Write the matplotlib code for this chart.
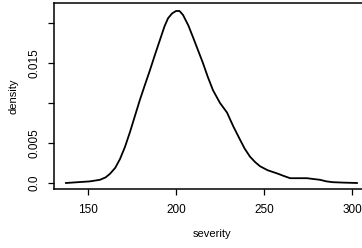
import matplotlib

matplotlib.use("Agg")
import matplotlib.pyplot as plt

# density estimate of severity
severity = [137.5, 145.5, 151.0, 156.8, 160.0, 162.5, 165.5, 168.2, 171.0, 173.9,
            176.7, 179.5, 182.4, 185.2, 188.0, 190.9, 193.5, 195.5, 197.8, 200.0,
            202.0, 204.0, 207.0, 209.7, 212.5, 215.3, 218.0, 221.0, 225.0, 229.0,
            232.5, 236.4, 239.0, 242.0, 245.0, 247.7, 252.0, 257.4, 261.0, 264.8,
            269.0, 274.4, 278.0, 281.8, 285.5, 289.2, 295.0, 302.8]
density = [0.0000, 0.00012, 0.0002, 0.0004, 0.0007, 0.00115, 0.0019, 0.0030, 0.0045, 0.0064,
           0.0084, 0.0104, 0.0123, 0.0141, 0.0160, 0.0179, 0.0196, 0.0206, 0.0212, 0.0215,
           0.0215, 0.0210, 0.0197, 0.0182, 0.0166, 0.0150, 0.0133, 0.0116, 0.0100, 0.0088,
           0.0071, 0.0054, 0.0043, 0.0033, 0.0026, 0.0021, 0.0016, 0.0012, 0.0009, 0.0006,
           0.0006, 0.0006, 0.0005, 0.0004, 0.0002, 0.0001, 0.00005, 0.0000]

x_ticks = [150, 200, 250, 300]
y_ticks = [0.0, 0.005, 0.010, 0.015, 0.020]
y_labels = ["0.0", "0.005", "", "0.015", ""]

plt.rcParams["font.family"] = ["Liberation Sans", "DejaVu Sans"]
fig = plt.figure(figsize=(3.62, 2.48), dpi=100)
ax = fig.add_axes([54 / 362, 59 / 248, 316 / 362, 186 / 248])
ax.plot(severity, density, color="black", lw=1.3)

ax.set_xlim(130.7, 310.2)
ax.set_ylim(-0.00075, 0.0225)
ax.set_xticks(x_ticks)
ax.set_xticklabels([str(t) for t in x_ticks])
ax.set_yticks(y_ticks)
ax.set_yticklabels(y_labels, rotation=90, va="center")
ax.tick_params(direction="out", length=4, width=0.9, labelsize=8.5)
ax.tick_params(axis="x", pad=7)
ax.tick_params(axis="y", pad=6)
for s in ax.spines.values():
    s.set_linewidth(1.1)
ax.set_xlabel("severity", fontsize=8, labelpad=9)
ax.set_ylabel("density", fontsize=8, labelpad=7)

fig.savefig("out.png", dpi=100)
